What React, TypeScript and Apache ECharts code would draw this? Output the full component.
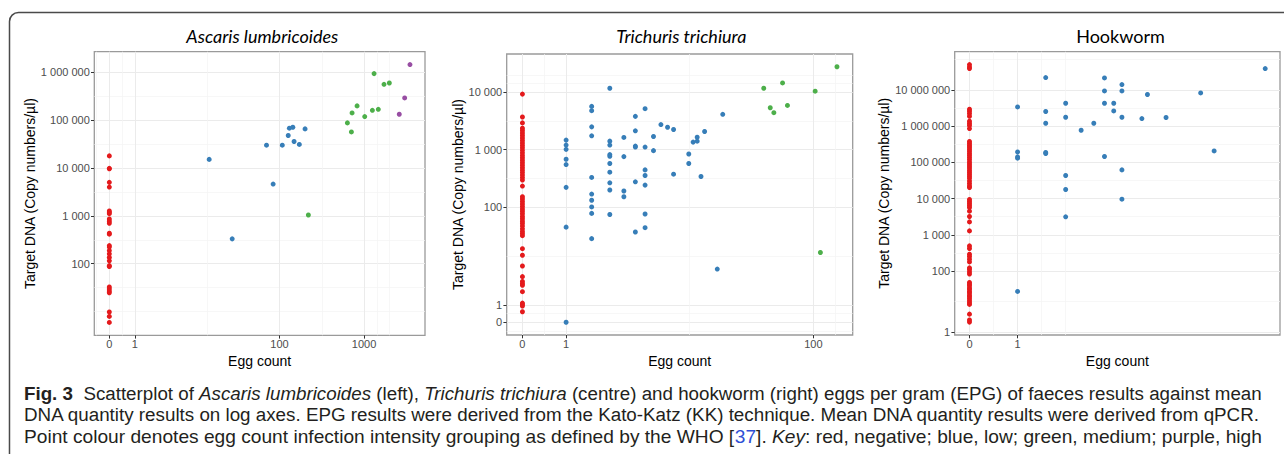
import React, { useEffect, useRef } from "react";
import * as echarts from "echarts";

// ---------- axis breaks (raw values) ----------
const BREAKS = [0, 1, 100, 1000, 10000, 100000, 1000000, 10000000];
const Y_BREAK_LABELS = ["0", "1", "100", "1 000", "10 000", "100 000", "1 000 000", "10 000 000"];
const X_BREAK_LABELS = ["0", "1", "100", "1000", "10000", "100000", "1000000", "10000000"];

// negative samples have an egg count of 0
const NEG_EGG = 0;

// ---------- Ascaris lumbricoides ----------
const ascNegDNA = [18000, 9900, 9660, 5040, 4020, 1270, 1190, 1117, 865, 776, 705, 436, 416, 240, 223, 189, 161, 135, 115, 91, 87, 32, 29, 26, 24, 8.9, 7, 5];
const ascLowEggs = [14, 27, 70, 84, 108, 127, 131, 144, 149, 172, 201];
const ascLowDNA = [15200, 332, 30100, 4640, 30100, 48000, 68100, 71400, 36000, 31200, 65900];
const ascMedEggs = [220, 636, 709, 722, 827, 1018, 1253, 1312, 1472, 1718, 1985];
const ascMedDNA = [1050, 87900, 57000, 142000, 199000, 119000, 161000, 940000, 169000, 562000, 598000];
const ascHighEggs = [2600, 3010, 3475];
const ascHighDNA = [133000, 292000, 1450000];

// ---------- Trichuris trichiura ----------
const triNegDNA = [9240, 3700, 2920, 2360, 2150, 1950, 1765, 1597, 1446, 1309, 1186, 1074, 972, 880, 797, 722, 654, 592, 536, 485, 439, 398, 360, 326, 295, 232, 151, 138, 125, 113, 102, 92, 84, 76, 68, 62, 56, 51, 46, 41, 37, 34, 31, 18, 13.6, 8.5, 5.2, 4.1, 3.7, 3.4, 2.4, 1.15, 1.03, 0.91, 0.52];
const triLowEggs = [
  1, 1, 1, 1, 1, 1, 1, 1,
  2, 2, 2, 2, 2, 2, 2, 2, 2, 2,
  3, 3, 3, 3, 3, 3, 3, 3, 3, 3,
  4, 4, 4, 4,
  5, 5, 5, 5, 5, 5,
  6, 6, 6, 6, 6, 6, 6,
  7, 7, 8, 9, 10, 10, 13, 13, 14, 15, 15, 16, 17, 21, 23,
];
const triLowDNA = [
  1465, 1200, 1011, 680, 550, 220, 44, 0,
  5650, 4760, 2490, 1740, 328, 168, 131, 100, 77, 27.4,
  11700, 1406, 1200, 819, 766, 573, 405, 264, 198, 73.5,
  1630, 756, 190, 151,
  3790, 2125, 1153, 1108, 275, 36,
  5150, 1108, 444, 355, 241, 75, 43,
  1695, 961, 2730, 2450, 2240, 374, 839, 573, 1352, 1648, 1406, 341, 2069, 7.4, 4110,
];
const triMedEggs = [45, 50, 53, 61, 66, 103, 112, 146];
const triMedDNA = [11700, 5360, 4390, 14450, 5870, 10400, 15.3, 27600];

// ---------- Hookworm ----------
const hkNegDNA = [50600000, 43500000, 39300000, 2950000, 2600000, 2240000, 1890000, 1370000, 1190000, 1050000, 863000, 378000, 333000, 293000, 263000, 232000, 204000, 176000, 155000, 136000, 120000, 103000, 90800, 80000, 70500, 60800, 53600, 47200, 41600, 36600, 30800, 26100, 22400, 20300, 9440, 8310, 7330, 6440, 5680, 4490, 3200, 2270, 1280, 492, 417, 290, 250, 211, 177, 121, 109, 93, 81, 47, 42, 38, 33, 30, 26, 23.4, 20.4, 18.3, 16, 13.9, 12.2, 10.9, 5.4, 3.4, 2.85];
const hkLowEggs = [
  1, 1, 1, 1, 1,
  2, 2, 2, 2, 2,
  3, 3, 3, 3, 3,
  4, 5,
  6, 6, 6, 6,
  7, 7,
  8, 8, 8, 8, 8,
  11, 12, 16, 27, 33, 70,
];
const hkLowDNA = [
  3410000, 195000, 142000, 131000, 26.2,
  22100000, 2550000, 1210000, 188000, 176000,
  4310000, 1770000, 43400, 17800, 3130,
  775000, 1210000,
  21600000, 9440000, 4310000, 146000,
  4310000, 2650000,
  14200000, 9440000, 1770000, 62100, 9620,
  1630000, 7520000, 1740000, 8320000, 208000, 39300000,
];

// ---------- caption ----------
type Seg = { t: string; s?: "b" | "i" | "l" };
const CAPTION: Seg[][] = [
  [
    { t: "Fig. 3", s: "b" },
    { t: "  Scatterplot of " },
    { t: "Ascaris lumbricoides", s: "i" },
    { t: " (left), " },
    { t: "Trichuris trichiura", s: "i" },
    { t: " (centre) and hookworm (right) eggs per gram (EPG) of faeces results against mean" },
  ],
  [
    { t: "DNA quantity results on log axes. EPG results were derived from the Kato-Katz (KK) technique. Mean DNA quantity results were derived from qPCR." },
  ],
  [
    { t: "Point colour denotes egg count infection intensity grouping as defined by the WHO [" },
    { t: "37", s: "l" },
    { t: "]. " },
    { t: "Key", s: "i" },
    { t: ": red, negative; blue, low; green, medium; purple, high" },
  ],
];

// ---------- styling ----------
const RED = "#e41a1c";
const BLUE = "#377eb8";
const GREEN = "#4daf4a";
const PURPLE = "#984ea3";
const AXIS_FONT = '"Liberation Sans", Arial, sans-serif';
const TITLE_FONT = 'Lato, "Open Sans", sans-serif';
const CAP_FONT_FAMILY = '"Liberation Sans Narrow", "Liberation Sans", Arial, sans-serif';
const CAP_SIZE = 18;

const tf = (v: number) => Math.log10(v + 1);

type Group = { eggs: number[]; dna: number[]; color: string; name: string };
type Panel = {
  title: string;
  italic: boolean;
  titleX: number;
  box: [number, number, number, number];
  yNameGap: number;
  groups: Group[];
};

const PANELS: Panel[] = [
  {
    title: "Ascaris lumbricoides",
    italic: true,
    titleX: 262.3,
    box: [94.3, 51.7, 330.7, 283.6],
    yNameGap: 55,
    groups: [
      { name: "negative", eggs: ascNegDNA.map(() => NEG_EGG), dna: ascNegDNA, color: RED },
      { name: "low", eggs: ascLowEggs, dna: ascLowDNA, color: BLUE },
      { name: "medium", eggs: ascMedEggs, dna: ascMedDNA, color: GREEN },
      { name: "high", eggs: ascHighEggs, dna: ascHighDNA, color: PURPLE },
    ],
  },
  {
    title: "Trichuris trichiura",
    italic: true,
    titleX: 681.3,
    box: [506.7, 54, 346, 281],
    yNameGap: 42,
    groups: [
      { name: "negative", eggs: triNegDNA.map(() => NEG_EGG), dna: triNegDNA, color: RED },
      { name: "low", eggs: triLowEggs, dna: triLowDNA, color: BLUE },
      { name: "medium", eggs: triMedEggs, dna: triMedDNA, color: GREEN },
    ],
  },
  {
    title: "Hookworm",
    italic: false,
    titleX: 1120.5,
    box: [954.7, 51.7, 325.3, 283.3],
    yNameGap: 63,
    groups: [
      { name: "negative", eggs: hkNegDNA.map(() => NEG_EGG), dna: hkNegDNA, color: RED },
      { name: "low", eggs: hkLowEggs, dna: hkLowDNA, color: BLUE },
    ],
  },
];

function expand(vals: number[]): [number, number] {
  const lo = Math.min(...vals);
  const hi = Math.max(...vals);
  const r = hi - lo;
  return [lo - 0.05 * r, hi + 0.05 * r];
}

function majorsIn(lim: [number, number]) {
  return BREAKS.map(tf).filter((v) => v >= lim[0] && v <= lim[1]);
}

// ggplot2-style regular minor breaks
function minorsIn(major: number[], lim: [number, number]) {
  let b = major.slice();
  if (b.length < 2) return [];
  const bd = b[1] - b[0];
  if (lim[0] < b[0]) b = [b[0] - bd, ...b];
  if (lim[1] > b[b.length - 1]) b = [...b, b[b.length - 1] + bd];
  const out: number[] = [];
  for (let i = 0; i < b.length - 1; i++) {
    out.push(b[i], (b[i] + b[i + 1]) / 2);
  }
  out.push(b[b.length - 1]);
  return out.filter(
    (v) => v > lim[0] && v < lim[1] && !major.some((m) => Math.abs(m - v) < 1e-9)
  );
}

function labelFor(v: number, labels: string[]) {
  let best = 0;
  let bd = Infinity;
  BREAKS.forEach((b, i) => {
    const d = Math.abs(tf(b) - v);
    if (d < bd) {
      bd = d;
      best = i;
    }
  });
  return labels[best];
}

function measureLine(segs: Seg[]) {
  const c = document.createElement("canvas").getContext("2d");
  if (!c) return 1238;
  let w = 0;
  segs.forEach((s) => {
    const st = s.s === "i" ? "italic " : "";
    const wt = s.s === "b" ? "bold " : "";
    c.font = `${st}${wt}${CAP_SIZE}px ${CAP_FONT_FAMILY}`;
    w += c.measureText(s.t).width;
  });
  return w;
}

function buildOption() {
  const grid: any[] = [];
  const xAxis: any[] = [];
  const yAxis: any[] = [];
  const series: any[] = [];
  const graphic: any[] = [];

  PANELS.forEach((p, i) => {
    const allX: number[] = [];
    const allY: number[] = [];
    p.groups.forEach((g) => {
      g.eggs.forEach((e) => allX.push(tf(e)));
      g.dna.forEach((d) => allY.push(tf(d)));
    });
    const xl = expand(allX);
    const yl = expand(allY);
    const xMaj = majorsIn(xl);
    const yMaj = majorsIn(yl);
    const xMin = minorsIn(xMaj, xl);
    const yMin = minorsIn(yMaj, yl);

    grid.push({
      left: p.box[0],
      top: p.box[1],
      width: p.box[2],
      height: p.box[3],
      show: true,
      backgroundColor: "#ffffff",
      borderColor: "#9a9a9a",
      borderWidth: 1.3,
      containLabel: false,
      outerBoundsMode: "none",
      z: 0,
    });

    const minorLine = { show: true, lineStyle: { color: "#f3f3f3", width: 0.7 } };
    const majorLine = { show: true, lineStyle: { color: "#ebebeb", width: 1 } };
    const tick = (vals: number[]) => ({
      show: true,
      inside: false,
      length: 3.3,
      customValues: vals,
      lineStyle: { color: "#333333", width: 1 },
    });
    const label = (vals: number[], margin: number, labels: string[]) => ({
      show: true,
      customValues: vals,
      formatter: (v: number) => labelFor(v, labels),
      margin,
      color: "#4d4d4d",
      fontSize: 11,
      fontFamily: AXIS_FONT,
      hideOverlap: false,
    });

    // minor x axis
    xAxis.push({
      type: "value",
      gridIndex: i,
      min: xl[0],
      max: xl[1],
      position: "bottom",
      axisLine: { show: false, onZero: false },
      axisTick: { show: false, customValues: xMin },
      axisLabel: { show: false },
      splitLine: minorLine,
      silent: true,
    });
    // major x axis
    xAxis.push({
      type: "value",
      gridIndex: i,
      min: xl[0],
      max: xl[1],
      position: "bottom",
      name: "Egg count",
      nameLocation: "middle",
      nameGap: 14,
      nameTextStyle: { color: "#000000", fontSize: 14, fontFamily: AXIS_FONT },
      axisLine: { show: false, onZero: false },
      axisTick: tick(xMaj),
      axisLabel: label(xMaj, 3, X_BREAK_LABELS),
      splitLine: majorLine,
      silent: true,
    });
    // minor y axis
    yAxis.push({
      type: "value",
      gridIndex: i,
      min: yl[0],
      max: yl[1],
      position: "left",
      axisLine: { show: false, onZero: false },
      axisTick: { show: false, customValues: yMin },
      axisLabel: { show: false },
      splitLine: minorLine,
      silent: true,
    });
    // major y axis
    yAxis.push({
      type: "value",
      gridIndex: i,
      min: yl[0],
      max: yl[1],
      position: "left",
      name: "Target DNA (Copy numbers/\u00b5l)",
      nameLocation: "middle",
      nameGap: p.yNameGap,
      nameTextStyle: { color: "#000000", fontSize: 14, fontFamily: AXIS_FONT },
      axisLine: { show: false, onZero: false },
      axisTick: tick(yMaj),
      axisLabel: label(yMaj, 4.5, Y_BREAK_LABELS),
      splitLine: majorLine,
      silent: true,
    });

    p.groups.forEach((g) => {
      series.push({
        type: "scatter",
        name: `${p.title} ${g.name}`,
        xAxisIndex: 2 * i + 1,
        yAxisIndex: 2 * i + 1,
        symbol: "circle",
        symbolSize: 5,
        itemStyle: { color: g.color, opacity: 1 },
        emphasis: { disabled: true },
        z: 3,
        data: g.eggs.map((e, k) => [tf(e), tf(g.dna[k])]),
      });
    });

    graphic.push({
      type: "text",
      x: p.titleX,
      y: 35.7,
      silent: true,
      style: {
        text: p.title,
        fill: "#000000",
        fontFamily: TITLE_FONT,
        fontSize: 18,
        fontStyle: p.italic ? "italic" : "normal",
        align: "center",
        textAlign: "center",
        verticalAlign: "middle",
        textVerticalAlign: "middle",
      },
    });
  });

  // outer figure frame (rounded corner)
  graphic.push({
    type: "rect",
    silent: true,
    shape: { x: 9.5, y: 12.5, width: 1320, height: 520, r: 9 },
    style: { fill: "none", stroke: "#4a4a4a", lineWidth: 1.5 },
    z: 10,
  });

  // caption
  const capY = [393.5, 415, 436.5];
  const capLeft = 24;
  const capRight = 1262;
  const rich = {
    b: { fontWeight: "bold", fontFamily: CAP_FONT_FAMILY, fontSize: CAP_SIZE, fill: "#231f20" },
    i: { fontStyle: "italic", fontFamily: CAP_FONT_FAMILY, fontSize: CAP_SIZE, fill: "#231f20" },
    l: { fontFamily: CAP_FONT_FAMILY, fontSize: CAP_SIZE, fill: "#2f4fd6" },
    n: { fontFamily: CAP_FONT_FAMILY, fontSize: CAP_SIZE, fill: "#231f20" },
  };
  CAPTION.forEach((segs, li) => {
    const w = measureLine(segs);
    const sx = (capRight - capLeft) / w;
    const text = segs.map((s) => `{${s.s || "n"}|${s.t}}`).join("");
    graphic.push({
      type: "text",
      x: capLeft,
      y: capY[li],
      scaleX: sx,
      silent: true,
      style: {
        text,
        rich,
        fill: "#231f20",
        fontFamily: CAP_FONT_FAMILY,
        fontSize: CAP_SIZE,
        align: "left",
        textAlign: "left",
        verticalAlign: "middle",
        textVerticalAlign: "middle",
      },
    });
  });

  return {
    animation: false,
    backgroundColor: "#ffffff",
    tooltip: { show: false },
    grid,
    xAxis,
    yAxis,
    series,
    graphic,
  };
}

export default function App() {
  const ref = useRef<HTMLDivElement>(null);
  useEffect(() => {
    if (!ref.current) return;
    const chart = echarts.init(ref.current, undefined, { renderer: "svg" });
    chart.setOption(buildOption() as any);
    return () => chart.dispose();
  }, []);
  return (
    <div
      ref={ref}
      style={{
        position: "absolute",
        left: 0,
        top: 0,
        width: 1284,
        height: 454,
        background: "#ffffff",
      }}
    />
  );
}
